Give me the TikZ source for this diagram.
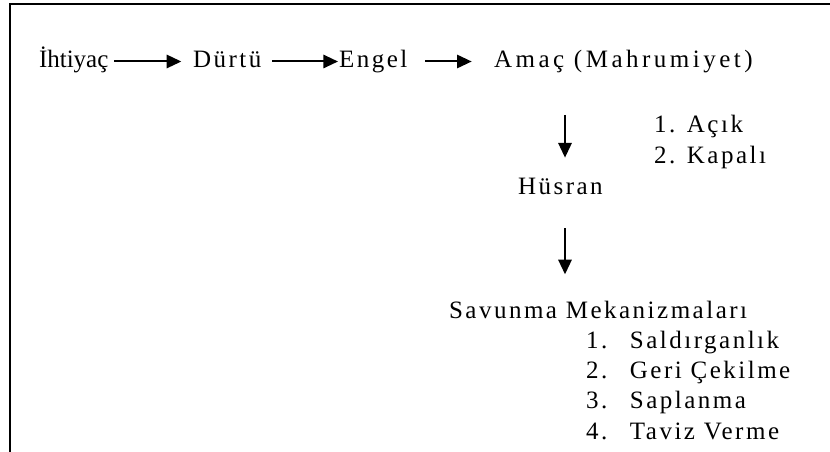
\documentclass[tikz,border=0pt]{standalone}
\usepackage{fontspec}
\setmainfont{Liberation Serif}
\newfontfamily\genis[LetterSpace=10]{Liberation Serif}
\newfontfamily\genisplus[LetterSpace=14]{Liberation Serif}
\usetikzlibrary{arrows.meta}

\begin{document}
\begin{tikzpicture}[x=0.75pt, y=-0.75pt, line width=1.5pt]
  \tikzstyle{metin}=[anchor=base west, inner sep=0, font=\fontsize{18.75}{22}\selectfont\genis];
  \tikzstyle{ok}=[-{Triangle[length=11pt, width=10pt]}];

  \useasboundingbox (0, 0) rectangle (830, 452);
  \draw (10, 452) -- (10, 4) -- (830, 4);

  \node[metin, font=\fontsize{18.75}{22}\selectfont] (ihtiyac) at (38, 68) {İhtiyaç};
  \node[metin] (durtu) at (192, 68) {Dürtü};
  \node[metin] (engel) at (338, 68) {Engel};
  \node[metin, font=\fontsize{18.75}{22}\selectfont\genisplus] (amac) at (493, 68) {Amaç (Mahrumiyet)};

  \node[metin] (acik) at (653, 133) {1. Açık};
  \node[metin] (kapali) at (653, 164) {2. Kapalı};
  \node[metin] (husran) at (517, 195) {Hüsran};

  \node[metin] (savunma) at (448, 318) {Savunma Mekanizmaları};
  \node[metin] (s1) at (585, 348) {1.\hspace{17pt}Saldırganlık};
  \node[metin] (s2) at (585, 378) {2.\hspace{17pt}Geri Çekilme};
  \node[metin] (s3) at (585, 408) {3.\hspace{17pt}Saplanma};
  \node[metin] (s4) at (585, 439) {4.\hspace{17pt}Taviz Verme};

  \draw[ok] (ihtiyac.base east) ++(5, -6.5) coordinate (o1) -- (o1 -| durtu.west) [shorten >=8pt];
  \draw[ok] (durtu.base east) ++(10, -6.5) coordinate (o2) -- (o2 -| engel.west);
  \draw[ok] (engel.base east) ++(17, -6.5) coordinate (o3) -- (o3 -| amac.west) [shorten >=16pt];
  \draw[ok] (565, 115) coordinate (o4) -- (o4 |- husran.north) [shorten >=15pt];
  \draw[ok] (husran.south -| o4) ++(0, 32) coordinate (o5) -- (o5 |- savunma.north) [shorten >=19pt];
\end{tikzpicture}
\end{document}
